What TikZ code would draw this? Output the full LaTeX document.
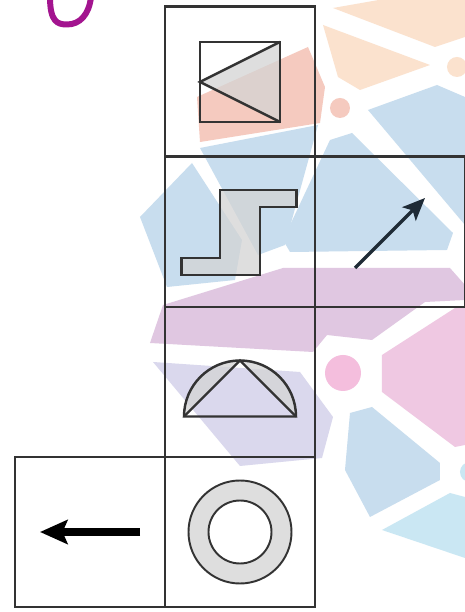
\documentclass[tikz,border=0pt]{standalone}
\usepackage{tikz}
\usetikzlibrary{arrows.meta, positioning, calc}
\definecolor{gridgray}{HTML}{333333}
\definecolor{arrowink}{HTML}{1F2B36}
\definecolor{iconfill}{HTML}{D4D4D4}
\definecolor{penmagenta}{HTML}{A3148F}
\definecolor{wmorange}{HTML}{FBE2CE}
\definecolor{wmsalmon}{HTML}{F5CABF}
\definecolor{wmblue}{HTML}{C8DDEE}
\definecolor{wmpurple}{HTML}{E0C7E1}
\definecolor{wmlavender}{HTML}{DAD8ED}
\definecolor{wmpink}{HTML}{EFC8E2}
\definecolor{wmpinkdot}{HTML}{F4BEDD}
\definecolor{wmcyan}{HTML}{CAE7F3}

\begin{document}
\begin{tikzpicture}[>=latex]
  % Styles
  \tikzstyle{cellbox} = [draw=gridgray, line width=1.7pt, minimum size=3cm,
    inner sep=0pt, outer sep=0pt]
  \tikzstyle{iconline} = [draw=gridgray, line width=1.4pt]
  \tikzstyle{iconshade} = [fill=iconfill, fill opacity=0.75]

  % Canvas
  \useasboundingbox (0,0) rectangle (9.3,12.24);
  \fill[white] (0,0) rectangle (9.3,12.24);

  % Faint logo behind the grid (pixel units)
  \begin{scope}[shift={(0,12.24)}, x=0.2mm, y=-0.2mm]
    \fill[wmorange] (333,8) -- (390,-2) -- (465,-2) -- (465,37) -- (435,47) -- cycle;
    \fill[wmorange] (323,25) -- (430,65) -- (360,90) -- (338,77) -- cycle;
    \fill[wmorange] (457,67) circle (10);
    \fill[wmsalmon] (197,97) -- (308,47) -- (325,87) -- (320,123) -- (200,142) -- cycle;
    \fill[wmsalmon] (340,108) circle (10);
    \fill[wmblue] (200,148) -- (318,125) -- (285,245) -- (258,255) -- cycle;
    \fill[wmblue] (140,217) -- (192,163) -- (242,240) -- (235,280) -- (167,287) -- cycle;
    \fill[wmblue] (368,110) -- (437,85) -- (465,97) -- (465,225) -- cycle;
    \fill[wmblue] (283,240) -- (330,140) -- (352,133) -- (453,233) -- (447,250) -- (290,252) -- cycle;
    \fill[wmpurple] (150,343) -- (163,305) -- (283,268) -- (450,268) -- (465,285)
      -- (465,300) -- (425,302) -- (372,340) -- (327,335) -- (313,352) -- cycle;
    \fill[wmlavender] (153,362) -- (300,372) -- (333,417) -- (322,458) -- (240,466) -- cycle;
    \fill[wmpink] (382,355) -- (455,308) -- (465,308) -- (465,445) -- (455,447) -- (382,392) -- cycle;
    \fill[wmpinkdot] (343,373) circle (18);
    \fill[wmblue] (350,413) -- (372,407) -- (440,463) -- (440,480) -- (370,517) -- (345,470) -- cycle;
    \fill[wmcyan] (382,530) -- (450,493) -- (465,497) -- (465,558) -- cycle;
    \fill[wmcyan] (470,472) circle (10);
  \end{scope}

  % Grid cells
  \node[cellbox] (wedgecell) at (4.8,10.6) {};
  \node[cellbox, below=0pt of wedgecell] (zigcell) {};
  \node[cellbox, right=0pt of zigcell] (pointcell) {};
  \node[cellbox, below=0pt of zigcell] (domecell) {};
  \node[cellbox, below=0pt of domecell] (ringcell) {};
  \node[cellbox, left=0pt of ringcell] (leftcell) {};

  % Cell 1: square split by two lines
  \begin{scope}[shift={(wedgecell.center)}]
    \fill[iconshade] (-0.8,0) -- (0.8,0.8) -- (0.8,-0.8) -- cycle;
    \draw[iconline] (-0.8,-0.8) rectangle (0.8,0.8);
    \draw[iconline] (0.8,0.8) -- (-0.8,0) -- (0.8,-0.8);
  \end{scope}

  % Cell 2: stepped bar
  \begin{scope}[shift={(zigcell.center)}]
    \filldraw[iconline, iconshade] (-1.17,-0.52) -- (-0.4,-0.52) -- (-0.4,0.84)
      -- (1.13,0.84) -- (1.13,0.5) -- (0.4,0.5) -- (0.4,-0.86) -- (-1.17,-0.86) -- cycle;
  \end{scope}

  % Cell 3: arrow up to the right
  \draw[arrowink, line width=2pt, -{Stealth[length=4.5mm, width=3.8mm, inset=1mm]}]
    ($(pointcell)+(-0.7,-0.72)$) -- ($(pointcell)+(0.7,0.68)$);

  % Cell 4: half disc with inner triangle
  \begin{scope}[shift={(domecell.center)}, yshift=-0.69cm]
    \fill[iconshade, even odd rule] (-1.12,0) arc (180:0:1.12) -- cycle
      (-1.12,0) -- (0,1.12) -- (1.12,0) -- cycle;
    \draw[iconline] (-1.12,0) arc (180:0:1.12) -- cycle;
    \draw[iconline] (-1.12,0) -- (0,1.12) -- (1.12,0);
  \end{scope}

  % Cell 5: ring
  \begin{scope}[shift={(ringcell.center)}]
    \fill[iconshade, even odd rule] (0,0) circle (1.03) (0,0) circle (0.63);
    \draw[iconline, line width=1.1pt] (0,0) circle (1.03) (0,0) circle (0.63);
  \end{scope}

  % Cell 6: arrow to the left
  \draw[black, line width=5pt, -{Stealth[length=5.5mm, width=4.8mm, inset=1mm]}]
    ($(leftcell)+(1.0,0)$) -- ($(leftcell)+(-1.0,0)$);

  % Pen mark at the top
  \draw[penmagenta, line width=3.4pt, line cap=round]
    (1.0,12.3) .. controls (1.0,11.8) and (1.15,11.75) .. (1.34,11.75)
    .. controls (1.6,11.75) and (1.78,11.95) .. (1.82,12.3);
\end{tikzpicture}
\end{document}
